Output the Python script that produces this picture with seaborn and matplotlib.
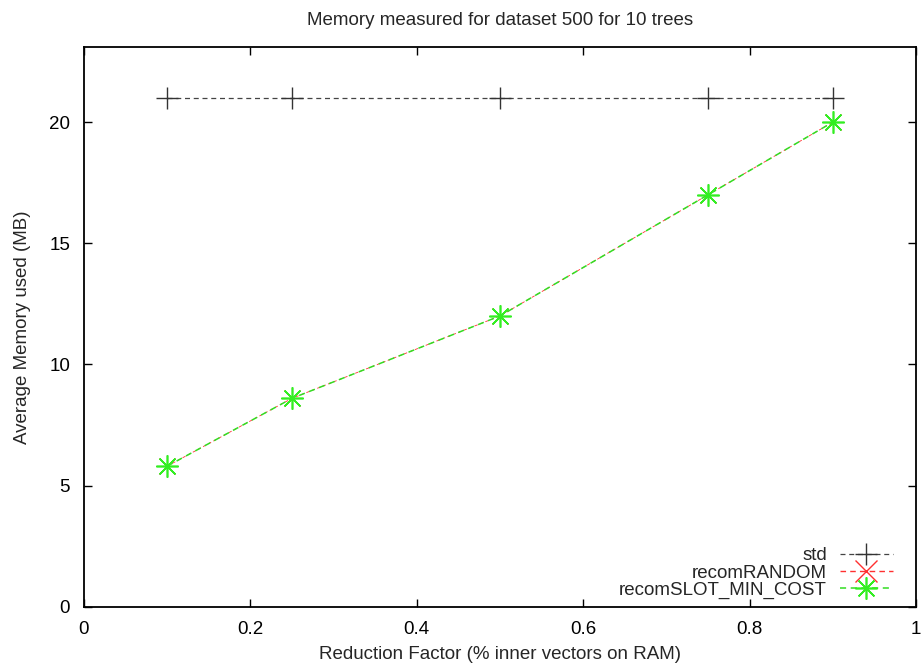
import numpy as np
import pandas as pd
import matplotlib
matplotlib.use('Agg')
import matplotlib.pyplot as plt
import seaborn as sns

# values
reduction = [0.1, 0.25, 0.5, 0.75, 0.9]
mem_std = [21, 21, 21, 21, 21]
mem_random = [5.8, 8.6, 12.0, 17.0, 20.0]
mem_slot = [5.8, 8.6, 12.0, 17.0, 20.0]
x_ticks = [0, 0.2, 0.4, 0.6, 0.8, 1]
y_ticks = [0, 5, 10, 15, 20]

sns.set_theme(style='ticks')
plt.rcParams['font.family'] = ['Liberation Sans', 'DejaVu Sans']
plt.rcParams['xtick.direction'] = 'in'
plt.rcParams['ytick.direction'] = 'in'

fs = 13.5
fig = plt.figure(figsize=(9.21, 6.65), dpi=100)
ax = fig.add_axes([0.0912, 0.0877, 0.9034, 0.8416])

df = pd.DataFrame({'x': reduction, 'std': mem_std, 'rand': mem_random, 'slot': mem_slot})

sns.lineplot(data=df, x='x', y='std', ax=ax, color='#444444', linestyle=(0, (4, 3)), lw=0.9,
             marker='+', markersize=16, mew=1.0, mec='#333333', label='std')
sns.lineplot(data=df, x='x', y='rand', ax=ax, color='#ff3030', linestyle=(0, (4, 3)), lw=0.6,
             marker='x', markersize=11, mew=1.0, mec='#ff3030', label='recomRANDOM')
sns.lineplot(data=df, x='x', y='slot', ax=ax, color='#33dd22', linestyle=(0, (4, 3)), lw=1.1,
             marker=(8, 2, 0), markersize=16, mew=1.2, mec='#33ee22', label='recomSLOT_MIN_COST')

ax.set_xlim(0, 1)
ax.set_ylim(0, 23.1)
ax.set_xticks(x_ticks)
ax.set_xticklabels(['0', '0.2', '0.4', '0.6', '0.8', '1'])
ax.set_yticks(y_ticks)
ax.tick_params(axis='both', which='both', top=True, right=True, length=6, width=1.0,
               labelsize=fs, colors='black')
ax.tick_params(axis='x', pad=10)
ax.tick_params(axis='y', pad=10)
for s in ax.spines.values():
    s.set_linewidth(1.3)
    s.set_color('black')

ax.set_title('Memory measured for dataset 500 for 10 trees', fontsize=fs, pad=16)
ax.set_xlabel('Reduction Factor (% inner vectors on RAM)', fontsize=fs, labelpad=6)
ax.set_ylabel('Average Memory used (MB)', fontsize=fs, labelpad=13)

# markerfirst=False right-aligns the labels against the samples, as gnuplot does
leg = ax.legend(loc='lower right', frameon=False, markerfirst=False, fontsize=fs,
                handlelength=2.8, handletextpad=0.7, labelspacing=0.0,
                borderpad=0, borderaxespad=0, bbox_to_anchor=(0.972, 0.014))
leg.legend_handles[1].set_linewidth(1.0)
leg.legend_handles[1].set_markersize(16)

fig.savefig('out.png', dpi=100)
